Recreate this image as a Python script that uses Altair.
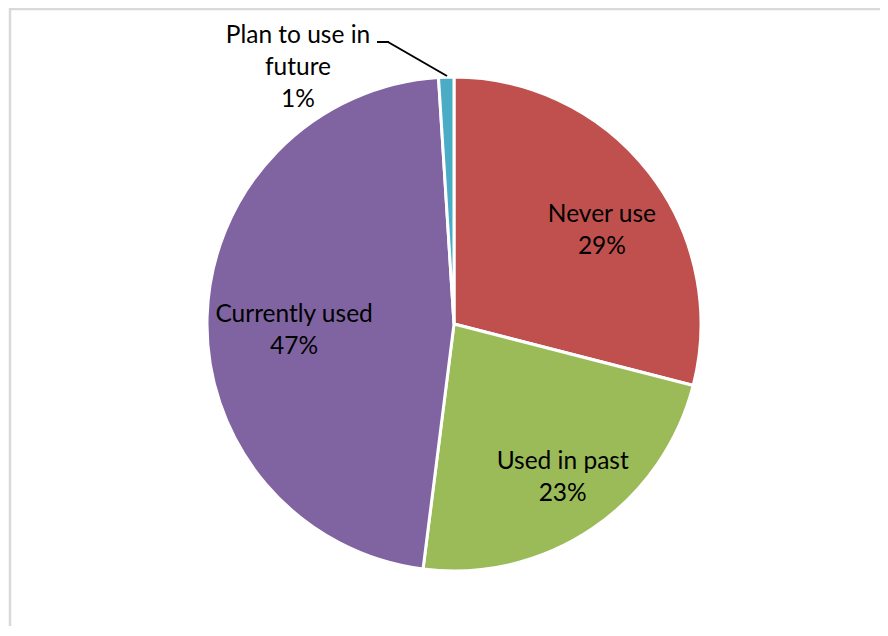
import altair as alt
import pandas as pd

categories = ["Never use", "Used in past", "Currently used", "Plan to use in future"]
values = [29, 23, 47, 1]
inner_labels = ["Never use\n29%", "Used in past\n23%", "Currently used\n47%", ""]
outer_labels = ["", "", "", "Plan to use in\nfuture\n1%"]
colors = ["#C0504D", "#9BBB59", "#8064A2", "#4BACC6"]

df = pd.DataFrame({
    "category": categories,
    "value": values,
    "order": list(range(len(categories))),
    "inner": inner_labels,
    "outer": outer_labels,
})

W, H = 872, 618
CX, CY, R = 446, 316, 247
FONT = "Lato"
FS = 24.5

base = alt.Chart(df)
one = alt.Chart(pd.DataFrame({"a": [0]}))

frame_left = one.mark_rule(color="#D9D9D9", strokeWidth=2.5).encode(
    x=alt.value(2), y=alt.value(0), y2=alt.value(H + 20))
frame_top = one.mark_rule(color="#D9D9D9", strokeWidth=2.5).encode(
    y=alt.value(1), x=alt.value(1), x2=alt.value(W + 20))

pie = base.mark_arc(stroke="white", strokeWidth=3, radius=R).encode(
    theta=alt.Theta("value:Q", stack=True),
    color=alt.Color("category:N", scale=alt.Scale(domain=categories, range=colors), legend=None),
    order=alt.Order("order:Q"),
    x=alt.value(CX),
    y=alt.value(CY),
)

labels = base.mark_text(
    radius=172, font=FONT, fontSize=FS, lineBreak="\n", lineHeight=32,
    color="black", dx=12, dy=-4, align="center", baseline="middle"
).encode(
    theta=alt.Theta("value:Q", stack=True),
    text="inner:N",
    order=alt.Order("order:Q"),
    x=alt.value(CX),
    y=alt.value(CY),
)

plan = base.transform_filter(alt.datum.outer != "").mark_text(
    font=FONT, fontSize=FS, lineBreak="\n", lineHeight=32, color="black",
    align="center", baseline="middle"
).encode(text="outer:N", x=alt.value(290), y=alt.value(28))

leader1 = one.mark_rule(color="black", strokeWidth=2).encode(
    x=alt.value(369), x2=alt.value(381), y=alt.value(34))
leader2 = one.mark_rule(color="black", strokeWidth=2).encode(
    x=alt.value(380), x2=alt.value(439), y=alt.value(34), y2=alt.value(68))

chart = alt.layer(frame_left, frame_top, pie, labels, plan, leader1, leader2).properties(
    width=W, height=H, autosize=alt.AutoSizeParams(type="none"), padding=0,
    background="white"
).configure_view(stroke=None)

chart.save("out.html", embed_options={"renderer": "svg", "actions": False})
